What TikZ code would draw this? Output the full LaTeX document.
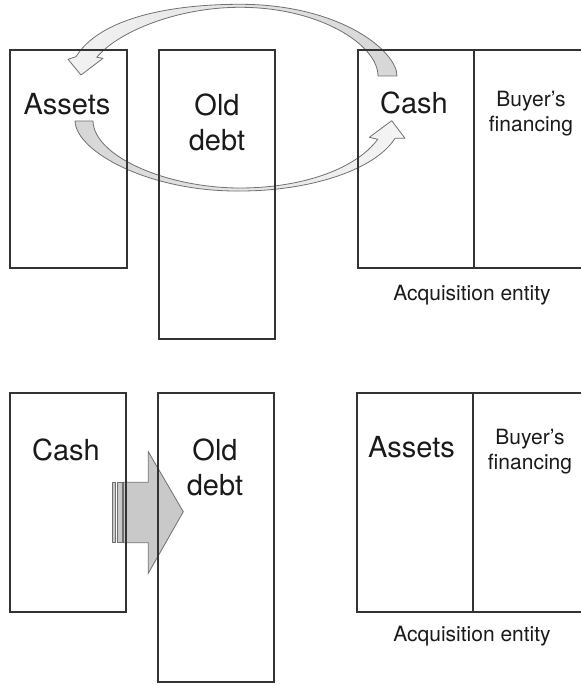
\documentclass[tikz,border=0pt]{standalone}
\usepackage{fontspec}
\setmainfont{TeX Gyre Heros}
\definecolor{boxc}{HTML}{333333}
\definecolor{txt}{HTML}{1A1A1A}
\definecolor{arrline}{HTML}{707070}
\definecolor{bigfill}{HTML}{C9C9C9}
\begin{document}
\begin{tikzpicture}[x=1pt,y=-1pt,
  box/.style={draw=boxc, line width=1.2pt, inner sep=0pt, outer sep=0pt, anchor=north west},
  bigtext/.style={font=\fontsize{29}{35}\selectfont, text=txt, inner sep=0pt, align=center},
  smalltext/.style={font=\fontsize{21}{25}\selectfont, text=txt, inner sep=0pt, align=center},
  curvearrow/.style={draw=arrline, line width=0.8pt, line join=round},
  blockarrow/.style={draw=arrline, line width=0.8pt, fill=bigfill}]
\useasboundingbox (0,0) rectangle (581,684);

% ---------- curved arrows (top) ----------
% Cash -> Assets
\path[curvearrow, left color=gray!10, right color=gray!32]
  (378,76) -- (397,76)
  .. controls (397,51) and (340,4.3) .. (240,4.3)
  .. controls (170,4.3) and (100,18) .. (76,56.7)
  -- (68,59.3) -- (81,75) -- (103,58.3) -- (96.7,57.3)
  .. controls (120,30) and (180,7.3) .. (240,7.3)
  .. controls (320,7.3) and (378,45) .. (378,76) -- cycle;
% Assets -> Cash
\path[curvearrow, left color=gray!32, right color=gray!8]
  (75,121) -- (93,121)
  .. controls (94,157) and (168,188) .. (240,188)
  .. controls (300,188) and (355,170) .. (377.7,139.3)
  -- (369.3,137.3) -- (391.7,120.7) -- (405,138.3) -- (395,138.3)
  .. controls (375,170) and (310,191) .. (240,191)
  .. controls (150,192) and (76,152) .. (75,121) -- cycle;

% ---------- block arrow (bottom) ----------
\draw[blockarrow] (112.3,482.3) rectangle (115.7,542.7);
\draw[blockarrow] (117.3,482.3) rectangle (122.3,542.7);
\draw[blockarrow] (123.5,482.3) -- (148.3,482.3) -- (148.3,451.7) -- (183.3,511.7)
  -- (148.3,573.3) -- (148.3,542.7) -- (123.5,542.7) -- cycle;

% ---------- top row boxes ----------
\node[box, minimum width=117pt, minimum height=218pt] (tAssetsBox) at (10,50) {};
\node[box, minimum width=116pt, minimum height=289pt] (tDebtBox) at (159,50) {};
\node[box, minimum width=116pt, minimum height=218pt] (tCashBox) at (358,50) {};
\draw[boxc, line width=1.2pt] (tCashBox.north east) -- (581,50);
\draw[boxc, line width=1.2pt] (tCashBox.south east) -- (581,268);

% ---------- bottom row boxes ----------
\node[box, minimum width=116pt, minimum height=219pt] (bCashBox) at (10,393) {};
\node[box, minimum width=116pt, minimum height=289pt] (bDebtBox) at (158,393) {};
\node[box, minimum width=116pt, minimum height=219pt] (bAssetsBox) at (357,393) {};
\draw[boxc, line width=1.2pt] (bAssetsBox.north east) -- (581,393);
\draw[boxc, line width=1.2pt] (bAssetsBox.south east) -- (581,612);

% ---------- top row texts ----------
\node[bigtext, anchor=base] (tAssets) at (67,115) {Assets};
\node[bigtext] (tDebt) at (217,122) {Old\\debt};
\node[bigtext, anchor=base] (tCash) at (414,114) {Cash};
\node[smalltext] (tBuyer) at (531,114) {Buyer’s\\financing};
\node[smalltext, anchor=base] (tAcq) at (472,300) {Acquisition entity};

% ---------- bottom row texts ----------
\node[bigtext, anchor=base] (bCash) at (66,460) {Cash};
\node[bigtext] (bDebt) at (215,467) {Old\\debt};
\node[bigtext, anchor=base] (bAssets) at (411.5,457) {Assets};
\node[smalltext] (bBuyer) at (530,452) {Buyer’s\\financing};
\node[smalltext, anchor=base] (bAcq) at (472,641) {Acquisition entity};
\end{tikzpicture}
\end{document}
